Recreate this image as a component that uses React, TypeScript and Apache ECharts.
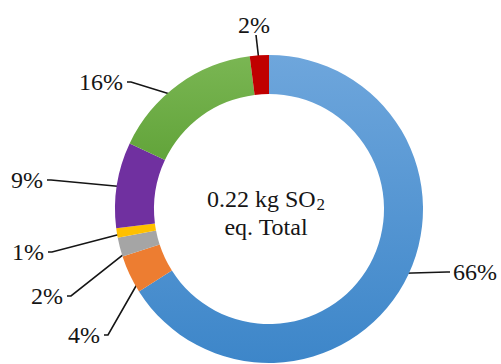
import { useEffect, useRef } from 'react';
import * as echarts from 'echarts';

// Share of the total acidification impact per contributor (percent)
const categories = ['Source A', 'Source B', 'Source C', 'Source D', 'Source E', 'Source F', 'Source G'];
const shares = [66, 4, 2, 1, 9, 16, 2];
const sliceColors = ['#4f93d3', '#ED7D31', '#A5A5A5', '#FFC000', '#7030A0', '#70AD47', '#C00000'];
// Where each percentage label sits (label centre, px)
const labelCenters: [number, number][] = [
  [475, 272],
  [84, 335],
  [47, 296],
  [28, 252],
  [27, 180],
  [101, 82],
  [254, 25],
];
const totalValue = '0.22 kg SO';
const totalSub = '2';
const totalUnit = 'eq. Total';

const FONT = 'Liberation Serif';
const CX = 269;
const CY = 209;
const R_IN = 115;
const R_OUT = 154;

export default function App() {
  const ref = useRef<HTMLDivElement>(null);

  useEffect(() => {
    if (!ref.current) return;
    const chart = echarts.init(ref.current, null, { renderer: 'svg' });
    const total = shares.reduce((a, b) => a + b, 0);
    const cumBefore = shares.map((_, i) => shares.slice(0, i).reduce((a, b) => a + b, 0));
    const rMid = (R_IN + R_OUT) / 2;

    const blueFill = new echarts.graphic.LinearGradient(0, 0, 0, 1, [
      { offset: 0, color: '#6ea6dc' },
      { offset: 1, color: '#3d86c9' },
    ]);
    const greenFill = new echarts.graphic.LinearGradient(0, 0, 0, 1, [
      { offset: 0, color: '#7ab653' },
      { offset: 1, color: '#62a43a' },
    ]);

    chart.setOption({
      animation: false,
      backgroundColor: '#ffffff',
      textStyle: { fontFamily: FONT },
      series: [
        {
          type: 'pie',
          center: [CX, CY],
          radius: [R_IN, R_OUT],
          startAngle: 90,
          clockwise: true,
          avoidLabelOverlap: false,
          silent: true,
          data: categories.map((name, i) => ({
            name,
            value: shares[i],
            itemStyle: {
              color: i === 0 ? blueFill : i === 5 ? greenFill : sliceColors[i],
            },
          })),
          label: {
            show: true,
            position: 'outside',
            formatter: (p: any) => `${p.value}%`,
            fontFamily: FONT,
            fontSize: 24,
            color: '#151515',
            overflow: 'none',
          },
          labelLine: {
            show: true,
            lineStyle: { color: '#151515', width: 1.6 },
          },
          labelLayout: (params: any) => {
            const i = params.dataIndex;
            const [lx, ly] = labelCenters[i];
            const w = params.labelRect.width;
            const h = params.labelRect.height;
            const midDeg = 90 - ((cumBefore[i] + shares[i] / 2) / total) * 360;
            const a = (midDeg * Math.PI) / 180;
            const px = CX + rMid * Math.cos(a);
            const py = CY - rMid * Math.sin(a);
            let anchor: number[];
            let elbow: number[];
            if (lx + w / 2 < px - 4) {
              anchor = [lx + w / 2 + 4, ly];
              elbow = [anchor[0] + 4, ly];
            } else if (lx - w / 2 > px + 4) {
              anchor = [lx - w / 2 - 3, ly];
              elbow = [anchor[0] - 3, ly];
            } else {
              anchor = [lx + 2, ly + h / 2 - 2];
              elbow = anchor.slice();
            }
            return {
              x: lx,
              y: ly,
              align: 'center',
              verticalAlign: 'middle',
              labelLinePoints: [anchor, elbow, [px, py]],
            };
          },
        },
      ],
      graphic: [
        {
          type: 'text',
          x: 266,
          y: 213,
          silent: true,
          style: {
            text: `{m|${totalValue}}{s|${totalSub}}\n{m|${totalUnit}}`,
            align: 'center',
            verticalAlign: 'middle',
            fontFamily: FONT,
            rich: {
              m: { fontFamily: FONT, fontSize: 24, lineHeight: 28, fill: '#151515' },
              s: {
                fontFamily: FONT,
                fontSize: 17,
                lineHeight: 18,
                fill: '#151515',
                verticalAlign: 'bottom',
                padding: [0, 0, 0, 1],
              },
            },
          },
        },
      ],
    });

    return () => chart.dispose();
  }, []);

  return (
    <div
      ref={ref}
      style={{ position: 'absolute', left: 0, top: 0, width: 501, height: 364, background: '#ffffff' }}
    />
  );
}
